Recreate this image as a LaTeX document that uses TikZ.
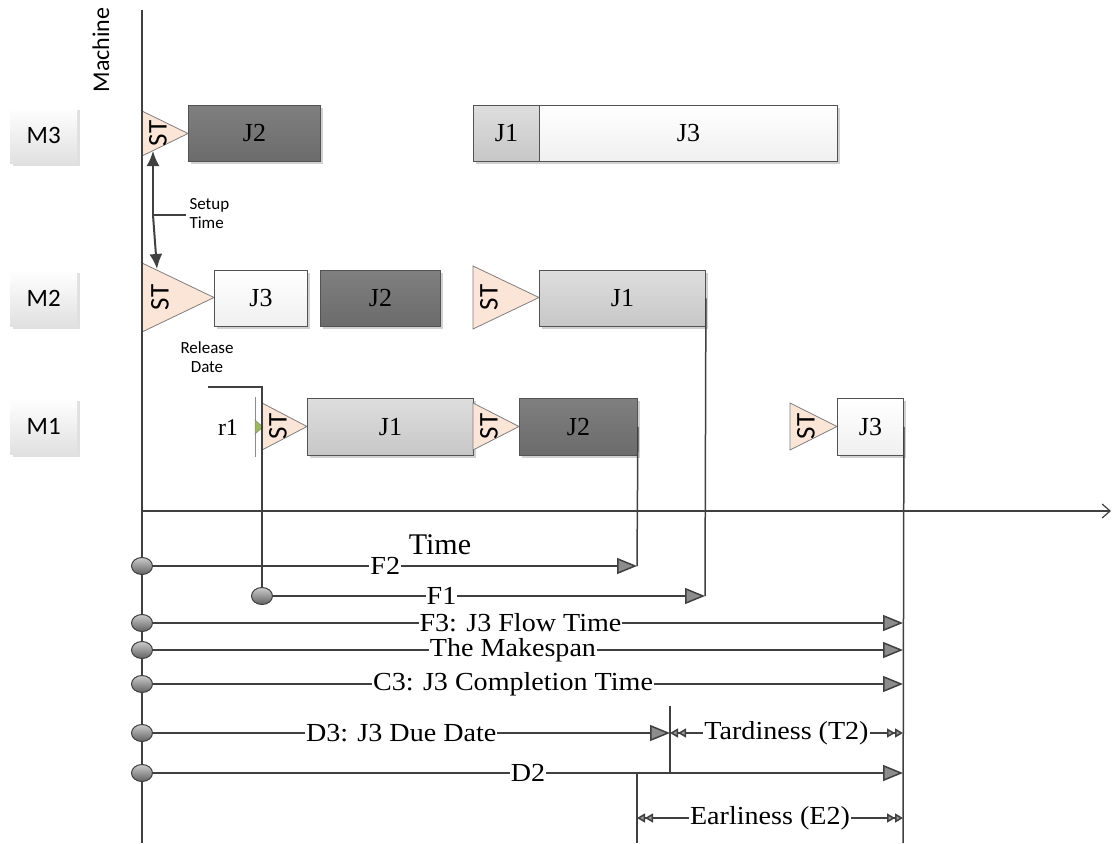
\documentclass[tikz,border=0pt]{standalone}
\usepackage{fontspec}
\setmainfont{Liberation Serif}
\newfontfamily\calibri{Carlito}
\newfontfamily\labserif{Liberation Serif}[FakeStretch=1.08]
\usetikzlibrary{arrows.meta,shadows,shapes.geometric}
\definecolor{lc}{HTML}{404040}
\definecolor{stfill}{HTML}{FBE5D6}
\definecolor{stline}{HTML}{7F7F7F}
\definecolor{rgreen}{HTML}{9BBB59}
\newcommand\myjobfont{\fontsize{26}{28}\selectfont}
\newcommand\mylabfont{\labserif\fontsize{26}{28}\selectfont}
\newcommand\mystfont{\calibri\fontsize{27}{29}\selectfont}
\newcommand\mysmallsans{\calibri\fontsize{17}{19}\selectfont}
\begin{document}
\begin{tikzpicture}[x=1pt,y=-1pt,
  conn/.style={draw=lc, line width=1.5pt},
  jobbox/.style={draw=lc!90, line width=0.9pt, minimum height=56pt, anchor=north west,
     inner sep=0pt, font=\myjobfont,
     drop shadow={shadow xshift=3pt, shadow yshift=-3pt, fill=black!18, opacity=1}},
  jobd/.style={jobbox, top color=black!50, bottom color=black!58},
  jobl/.style={jobbox, top color=black!13, bottom color=black!22},
  jobw/.style={jobbox, top color=white, bottom color=black!6},
  mlab/.style={minimum width=67pt, minimum height=56pt, anchor=north west, inner sep=0pt,
     top color=white, bottom color=black!12, font=\calibri\fontsize{25}{27}\selectfont,
     drop shadow={shadow xshift=3pt, shadow yshift=-3pt, fill=black!12, opacity=1}},
  sttri/.style={fill=stfill, draw=stline, line width=0.8pt},
  sttxt/.style={rotate=90, font=\mystfont, inner sep=0pt},
  dot/.style={ellipse, draw=lc, line width=1pt, minimum width=21pt, minimum height=17pt,
     inner sep=0pt, top color=black!20, bottom color=black!62},
  bigtip/.style={-{Triangle[length=20pt,width=16pt,fill=black!45]}},
  dbl/.style={arrows={Triangle[length=8pt,width=9pt,fill=black!40]Triangle[length=8pt,width=9pt,fill=black!40]-Triangle[length=8pt,width=9pt,fill=black!40]Triangle[length=8pt,width=9pt,fill=black!40]}},
  lbl/.style={fill=white, inner xsep=1pt, inner ysep=0pt, font=\mylabfont},
  setarrow/.style={draw=lc, line width=2pt, -{Latex[length=15pt,width=13pt]}}
]
\useasboundingbox (0,0) rectangle (1115,843);

% machine labels
\node[rotate=90, font=\calibri\fontsize{24}{26}\selectfont] (machine) at (101,50) {Machine};
\node[mlab] (m3) at (10,107) {M3};
\node[mlab] (m2) at (10,270) {M2};
\node[mlab] (m1) at (10,398) {M1};

% M3 row
\path[sttri] (142,111) -- (142,156) -- (188,133.5) -- cycle;
\node[sttxt] (m3st) at (158,133.5) {ST};
\node[jobd, minimum width=132pt] (m3j2) at (188,105) {J2};
\node[jobl, minimum width=66pt] (m3j1) at (473,105) {J1};
\node[jobw, minimum width=298pt] (m3j3) at (539,105) {J3};

% M2 row
\path[sttri] (142,263) -- (142,332) -- (214,297.5) -- cycle;
\node[sttxt] (m2sta) at (160,297.5) {ST};
\node[jobw, minimum width=93pt] (m2j3) at (214,270) {J3};
\node[jobd, minimum width=120pt] (m2j2) at (320,270) {J2};
\path[sttri] (473,266) -- (473,329) -- (539,297.5) -- cycle;
\node[sttxt] (m2stb) at (489,297.5) {ST};
\node[jobl, minimum width=166pt] (m2j1) at (539,270) {J1};

% M1 row
\path[sttri] (262,403) -- (262,450) -- (307,426.5) -- cycle;
\node[sttxt] (m1sta) at (278,426.5) {ST};
\node[jobl, minimum width=166pt, minimum height=57pt] (m1j1) at (307,398) {J1};
\path[sttri] (473,403) -- (473,450) -- (519,426.5) -- cycle;
\node[sttxt] (m1stb) at (489,426.5) {ST};
\node[jobd, minimum width=118pt, minimum height=57pt] (m1j2) at (519,398) {J2};
\path[sttri] (790,403) -- (790,450) -- (837,426.5) -- cycle;
\node[sttxt] (m1stc) at (806,426.5) {ST};
\node[jobw, minimum width=66pt, minimum height=57pt] (m1j3) at (837,398) {J3};

% release date marker
\draw[black!45, line width=0.6pt] (255,397) -- (255,457);
\path[fill=rgreen, draw=stline, line width=0.5pt] (255,420) -- (255,434) -- (263,427) -- cycle;
\node[font=\fontsize{24}{26}\selectfont] (r1) at (228,428) {r1};
\node[font=\mysmallsans, align=center] (reltxt) at (207,357) {Release\\Date};

% setup time
\coordinate (sj) at (153,215);
\coordinate (m3tip) at (153,151);
\coordinate (m2tip) at (157,269);
\coordinate (sl) at (186,215);
\draw[setarrow] (sj) -- (m3tip);
\draw[setarrow] (sj) -- (m2tip);
\draw[conn] (sj) -- (sl);
\node[font=\mysmallsans, align=left, anchor=west] (settxt) at (186,214) {Setup\\Time};

% axes
\coordinate (axtop) at (142,10);
\coordinate (axbot) at (142,843);
\coordinate (orig) at (142,511);
\coordinate (tend) at (1111,511);
\draw[conn] (axtop) -- (axbot);
\draw[conn, line width=1.2pt, -{Straight Barb[length=8pt,width=14pt]}] (orig) -- (tend);
\node[font=\fontsize{30}{32}\selectfont] (timelbl) at (440,545) {Time};

% end coordinates
\coordinate (f2e) at (637,566);
\coordinate (f1e) at (705,596);
\coordinate (f3e) at (903,623);
\coordinate (mke) at (903,650);
\coordinate (c3e) at (903,684);
\coordinate (d3e) at (670,733);
\coordinate (t2e) at (903,733);
\coordinate (d2e) at (903,773);
\coordinate (e2s) at (637,818);
\coordinate (e2e) at (903,818);
\coordinate (tv1) at (670,706);
\coordinate (tv2) at (670,773);
\coordinate (ev1) at (637,773);
\coordinate (ev2) at (637,843);
\coordinate (rv) at (903,843);
\coordinate (relstart) at (208,387);

% vertical guide lines
\draw[conn] (m1j2.east) -- (f2e);
\draw[conn] (m2j1.east) -- (f1e);
\draw[conn] (m1j3.east) -- (rv);
\draw[conn] (tv1) -- (tv2);
\draw[conn] (ev1) -- (ev2);

% circles
\node[dot] (c2) at (142,566) {};
\node[dot] (c1) at (262,596) {};
\node[dot] (c3) at (142,623) {};
\node[dot] (cm) at (142,650) {};
\node[dot] (cc) at (142,684) {};
\node[dot] (cd3) at (142,733) {};
\node[dot] (cd2) at (142,773) {};
\draw[conn] (relstart) -| (c1);

% measure arrows
\draw[conn, bigtip] (c2) -- node[lbl, pos=0.48] {F2} (f2e);
\draw[conn, bigtip] (c1) -- node[lbl, pos=0.39] {F1} (f1e);
\draw[conn, bigtip] (c3) -- node[lbl, pos=0.49] {F3: J3 Flow Time} (f3e);
\draw[conn, bigtip] (cm) -- node[lbl, pos=0.48] {The Makespan} (mke);
\draw[conn, bigtip] (cc) -- node[lbl, pos=0.48] {C3: J3 Completion Time} (c3e);
\draw[conn, bigtip] (cd3) -- node[lbl, pos=0.48] {D3: J3 Due Date} (d3e);
\draw[conn, dbl] (d3e) -- node[lbl, pos=0.5] {Tardiness (T2)} (t2e);
\draw[conn, bigtip] (cd2) -- node[lbl, pos=0.5] {D2} (d2e);
\draw[conn, dbl] (e2s) -- node[lbl, pos=0.5] {Earliness (E2)} (e2e);
\end{tikzpicture}
\end{document}
